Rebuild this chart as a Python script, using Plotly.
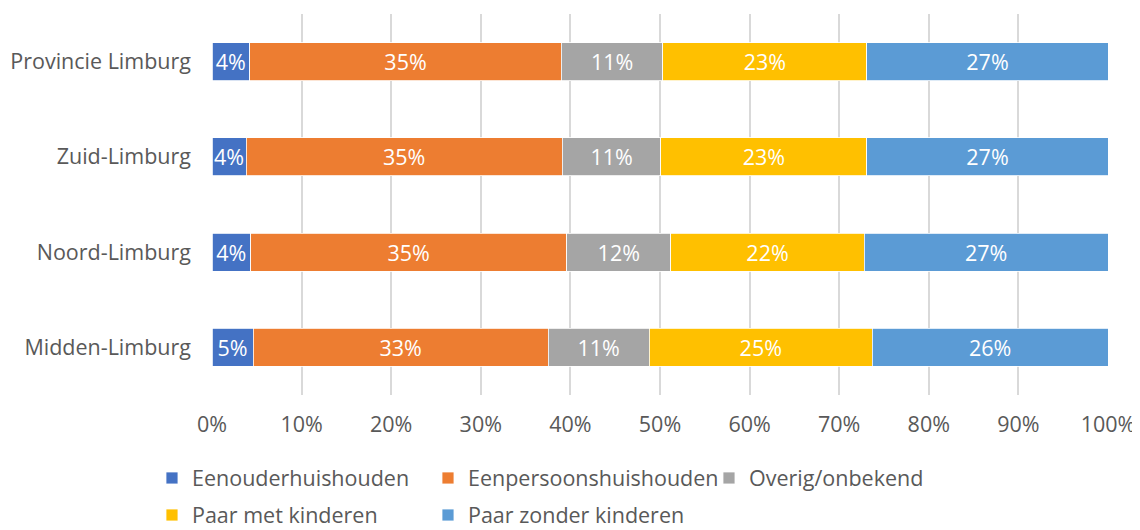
import plotly.graph_objects as go

categories = ["Provincie Limburg", "Zuid-Limburg", "Noord-Limburg", "Midden-Limburg"]
series_names = ["Eenouderhuishouden", "Eenpersoonshuishouden", "Overig/onbekend",
                "Paar met kinderen", "Paar zonder kinderen"]
eenouder = [4.2, 3.8, 4.3, 4.6]
eenpersoons = [34.8, 35.3, 35.3, 32.9]
overig = [11.3, 11.0, 11.6, 11.3]
paar_met = [22.8, 23.0, 21.6, 24.9]
paar_zonder = [26.9, 26.9, 27.2, 26.3]
x_tickvals = [0, 10, 20, 30, 40, 50, 60, 70, 80, 90, 100]
x_ticktext = ["0%", "10%", "20%", "30%", "40%", "50%", "60%", "70%", "80%", "90%", "100%"]

colors = ["#4472C4", "#ED7D31", "#A5A5A5", "#FFC000", "#5B9BD5"]
values = [eenouder, eenpersoons, overig, paar_met, paar_zonder]
legend_ids = ["legend", "legend", "legend", "legend2", "legend2"]
legend_widths = [231, 236, 200, 231, 231]

FONT = "Open Sans"
FS = 21.5
# the page body adds an 8px offset; figure is sized so its plot area lands on the reference
W, H = 1132, 522
fig = go.Figure()
for name, vals, col, lg, lw in zip(series_names, values, colors, legend_ids, legend_widths):
    fig.add_trace(go.Bar(
        name=name, y=categories, x=vals, orientation="h",
        marker=dict(color=col, line=dict(color="#FFFFFF", width=0.8)),
        texttemplate="%{x:.0f}%", textposition="inside", insidetextanchor="middle",
        textangle=0, constraintext="none",
        textfont=dict(family=FONT, size=FS, color="#FFFFFF"),
        legend=lg, legendwidth=lw, hoverinfo="skip",
    ))

legend_common = dict(orientation="h", xref="container", yref="container",
                     xanchor="left", yanchor="middle",
                     font=dict(family=FONT, size=FS, color="#595959"),
                     bgcolor="rgba(0,0,0,0)", traceorder="normal")

fig.update_layout(
    width=W, height=H,
    barmode="stack", bargap=0.6,
    paper_bgcolor="white", plot_bgcolor="white",
    margin=dict(l=204, r=32, t=6, b=135, autoexpand=False),
    font=dict(family=FONT, size=FS, color="#595959"),
    xaxis=dict(range=[0, 100], tickvals=x_tickvals, ticktext=x_ticktext,
               showgrid=True, gridcolor="#D9D9D9", gridwidth=1.5,
               zeroline=False, showline=False, ticklabelstandoff=14, automargin=False,
               tickfont=dict(family=FONT, size=FS, color="#595959")),
    yaxis=dict(autorange="reversed", showgrid=False, showline=False,
               ticklabelstandoff=20, automargin=False,
               tickfont=dict(family=FONT, size=FS, color="#595959")),
    legend=dict(x=0.1272, y=0.0996, **legend_common),
    legend2=dict(x=0.1272, y=0.0287, **legend_common),
)

fig.write_html("out.html")
